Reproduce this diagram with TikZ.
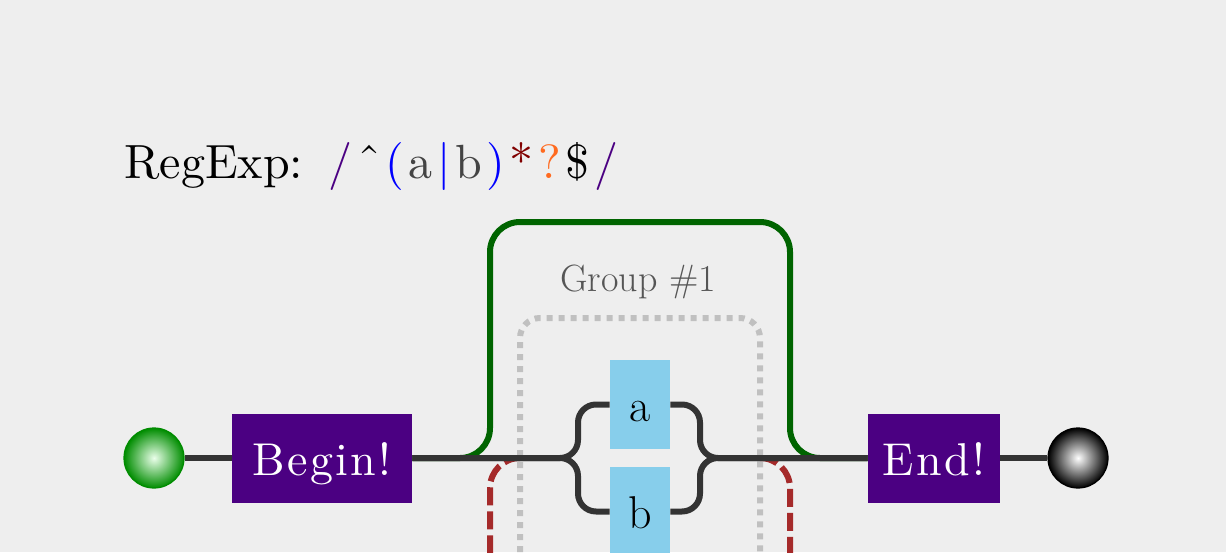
\documentclass[tikz,border=0pt]{standalone}
\usepackage{fontspec}
\usepackage{xcolor}
\usepackage{tikz}
\usetikzlibrary{positioning}
\newfontfamily\titlefont{lmroman10-regular}[Extension=.otf]
\newfontfamily\boxfont{lmroman10-regular}[Extension=.otf,LetterSpace=5]
% space between the coloured characters of the pattern
\newcommand\pgap{\kern2.3pt}
\definecolor{bg}{HTML}{EEEEEE}
\definecolor{railgray}{HTML}{333333}
\definecolor{indigo}{HTML}{4B0082}
\definecolor{skyblue}{HTML}{87CEEB}
\definecolor{darkgreen}{HTML}{006400}
\definecolor{brownred}{HTML}{A52A2A}
\definecolor{silver}{HTML}{C0C0C0}
\definecolor{maroon}{HTML}{800000}
\definecolor{orangered}{HTML}{FF6A1F}
\definecolor{groupgray}{HTML}{555555}
\definecolor{chargray}{HTML}{444444}
\tikzset{
	% The rail the match runs along
	rail/.style={
		draw=railgray,line width=3pt
	},
	% The point where the match starts
	start_point/.style={
		circle,minimum size=30pt,inner sep=0pt,draw=green!55!black,line width=0.6pt,
		inner color=green!8!white,outer color=green!55!black
	},
	% The point where the match ends
	end_point/.style={
		circle,minimum size=30pt,inner sep=0pt,draw=black,line width=0.6pt,
		inner color=white,outer color=black
	},
	% The anchors like ^ and $
	anchor_box/.style={
		fill=indigo,text=white,rectangle,minimum height=44.5pt,inner sep=0pt,
		font=\boxfont\fontsize{23pt}{23pt}\selectfont,text height=17pt,text depth=0pt
	},
	% The literal characters
	literal/.style={
		fill=skyblue,text=black,rectangle,minimum width=30pt,minimum height=44.5pt,inner sep=0pt,
		font=\fontsize{23pt}{23pt}\selectfont,text height=17pt,text depth=0pt
	},
	% The path that skips the group
	skip_path/.style={
		draw=darkgreen,line width=3pt,rounded corners=15pt
	},
	% The path that repeats the group
	repeat_path/.style={
		draw=brownred,line width=3pt,rounded corners=15pt,dash pattern=on 9pt off 3pt
	},
	% The frame round the capture group
	group_frame/.style={
		draw=silver,line width=3pt,rounded corners=10pt,dash pattern=on 3pt off 3pt
	},
}

\begin{document}
\begin{tikzpicture}[x=0.5pt,y=-0.5pt]
		\clip (0,0) rectangle (1226,552);
		\fill [bg] (0,0) rectangle (1226,552);

		\node [anchor=base west,inner sep=0pt,font=\titlefont\fontsize{24pt}{24pt}\selectfont] (Title) at (124,178) {RegExp:};
		\node [anchor=base west,inner sep=0pt,font=\titlefont\fontsize{24pt}{24pt}\selectfont] (Pattern) at (328,178)
			{\textcolor{indigo}{/}\pgap\char"02C6\pgap\textcolor{blue}{(}\pgap\textcolor{chargray}{a}\pgap\textcolor{blue}{\textbar}\pgap\textcolor{chargray}{b}\pgap\textcolor{blue}{)}\pgap\textcolor{maroon}{*}\pgap\textcolor{orangered}{?}\pgap\$\pgap\textcolor{indigo}{/}};

		\node [start_point] (Start) at (154,458) {};
		\node [anchor_box,minimum width=90pt] (Begin) at (322,458) {Begin!};
		\node [literal] (a) at (640,404.5) {a};
		\node [literal] (b) at (640,511.5) {b};
		\node [anchor_box,minimum width=66pt] (End) at (934,458) {End!};
		\node [end_point] (Finish) at (1078,458) {};
		\node [anchor=base,text=groupgray,font=\fontsize{19pt}{19pt}\selectfont] (Group label) at (638,291) {Group \#1};

		\coordinate (split) at (578,458);
		\coordinate (join) at (700,458);
		\coordinate (group_in) at (520,458);
		\coordinate (group_out) at (760,458);

		% Group and loops
		\draw [group_frame] (520,600) -- (520,318) -- (760,318) -- (760,600);
		\draw [skip_path] (Begin.east) -- (490,458) -- (490,222) -- (790,222) -- (790,458) -- (End.west);
		\draw [repeat_path] (group_out) -- (790,458) -- (790,600) -- (490,600) -- (490,458) -- (group_in);

		% Rails
		\draw [rail] (Start) -- (Begin);
		\draw [rail,rounded corners=9pt] (Begin.east) -- (split) |- (a.west);
		\draw [rail,rounded corners=9pt] (Begin.east) -- (split) |- (b.west);
		\draw [rail,rounded corners=9pt] (a.east) -| (join) -- (End.west);
		\draw [rail,rounded corners=9pt] (b.east) -| (join) -- (End.west);
		\draw [rail] (End) -- (Finish);
	\end{tikzpicture}
\end{document}
